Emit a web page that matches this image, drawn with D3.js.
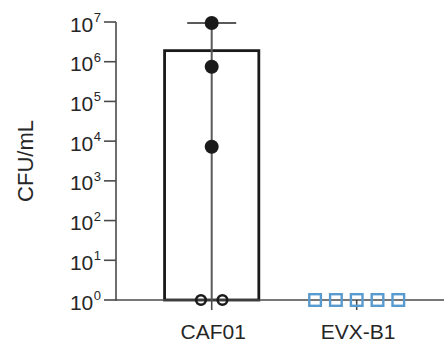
<!DOCTYPE html>
<html><head><meta charset="utf-8">
<script src="https://cdn.jsdelivr.net/npm/d3@7"></script>
<style>
html,body{margin:0;padding:0;background:#fff;}
svg{display:block;font-family:"Liberation Sans",Arial,sans-serif;}
</style></head>
<body>
<svg id="chart" width="444" height="342"></svg>
<script>
// ---- data ----
const categories = ["CAF01", "EVX-B1"];
const barMeans = [1.9e6, 0];
const errHigh = [9.4e6, null];
const caf01Points = [9.4e6, 7.5e5, 7.2e3, 1, 1];
const caf01Detected = [true, true, true, false, false];
const evxPoints = [1, 1, 1, 1, 1];
const yTickExps = [0, 1, 2, 3, 4, 5, 6, 7];
const yLabel = "CFU/mL";

const svg = d3.select("#chart");
const axisColor = "#4a4a4a";
const textColor = "#262626";
const blue = "#5a9bcf";

const y = d3.scaleLog().domain([1, 1e7]).range([300, 22]);
const x = d3.scaleBand().domain(categories).range([116, 452.4])
  .paddingInner(0.35).paddingOuter(0.335);
const cx = c => x(c) + x.bandwidth() / 2;

// bars
categories.forEach((c, i) => {
  if (barMeans[i] > 1) {
    svg.append("rect")
      .attr("x", x(c)).attr("width", x.bandwidth())
      .attr("y", y(barMeans[i])).attr("height", y(1) - y(barMeans[i]))
      .attr("fill", "#fff").attr("stroke", "#1a1a1a").attr("stroke-width", 2.8);
  }
});

// axes lines
svg.append("line").attr("x1", 116).attr("x2", 444).attr("y1", y(1)).attr("y2", y(1))
  .attr("stroke", axisColor).attr("stroke-width", 1.6);
svg.append("line").attr("x1", 116).attr("x2", 116).attr("y1", y(1e7)).attr("y2", y(1) + 0.8)
  .attr("stroke", axisColor).attr("stroke-width", 1.6);

// y ticks
yTickExps.forEach(e => {
  const v = Math.pow(10, e);
  svg.append("line").attr("x1", 104).attr("x2", 116).attr("y1", y(v)).attr("y2", y(v))
    .attr("stroke", axisColor).attr("stroke-width", 1.6);
  const t = svg.append("text").attr("x", 101).attr("y", y(v) + 9.5)
    .attr("text-anchor", "end").attr("fill", textColor).attr("font-size", 21);
  t.append("tspan").text("10");
  t.append("tspan").attr("font-size", 13).attr("dx", 0.5).attr("dy", -9.5).text(e);
});

// x ticks and labels
categories.forEach(c => {
  svg.append("line").attr("x1", cx(c)).attr("x2", cx(c)).attr("y1", y(1)).attr("y2", y(1) + 10)
    .attr("stroke", axisColor).attr("stroke-width", 1.6);
  svg.append("text").attr("x", cx(c) + 1.5).attr("y", 339).attr("text-anchor", "middle")
    .attr("fill", textColor).attr("font-size", 21).text(c);
});

// error bars
categories.forEach((c, i) => {
  if (errHigh[i] != null) {
    svg.append("line").attr("x1", cx(c)).attr("x2", cx(c)).attr("y1", y(errHigh[i])).attr("y2", y(1))
      .attr("stroke", "#5a5a5a").attr("stroke-width", 2);
    svg.append("line").attr("x1", cx(c) - 24.5).attr("x2", cx(c) + 24.5)
      .attr("y1", y(errHigh[i])).attr("y2", y(errHigh[i]))
      .attr("stroke", "#5a5a5a").attr("stroke-width", 2);
  }
});

// swarm offsets: spread equal values horizontally
function offsets(vals, spacing) {
  const groups = d3.group(vals.map((v, i) => ({v, i})), d => d.v);
  const off = new Array(vals.length).fill(0);
  groups.forEach(g => g.forEach((d, k) => { off[d.i] = (k - (g.length - 1) / 2) * spacing; }));
  return off;
}

const offC = offsets(caf01Points, 21.5);
caf01Points.forEach((v, i) => {
  const c = svg.append("circle").attr("cx", cx("CAF01") + offC[i]).attr("cy", y(v));
  if (caf01Detected[i]) c.attr("r", 7).attr("fill", "#1a1a1a");
  else c.attr("r", 4.8).attr("fill", "none").attr("stroke", "#1a1a1a").attr("stroke-width", 2.6);
});

const offE = offsets(evxPoints, 20.8);
evxPoints.forEach((v, i) => {
  svg.append("rect").attr("x", cx("EVX-B1") + offE[i] - 5.8).attr("y", y(v) - 5.8)
    .attr("width", 11.6).attr("height", 11.6)
    .attr("fill", "none").attr("stroke", blue).attr("stroke-width", 2.4);
});

// y label
svg.append("text").attr("transform", "translate(32.5,161) rotate(-90)")
  .attr("text-anchor", "middle").attr("fill", textColor).attr("font-size", 22).text(yLabel);
</script>
</body></html>
